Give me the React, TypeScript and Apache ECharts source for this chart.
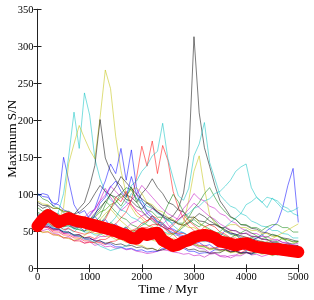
import React, { useEffect, useRef } from "react";
import * as echarts from "echarts";

const times = [0,100,200,300,400,500,600,700,800,900,1000,1100,1200,1300,1400,1500,1600,1700,1800,1900,2000,2100,2200,2300,2400,2500,2600,2700,2800,2900,3000,3100,3200,3300,3400,3500,3600,3700,3800,3900,4000,4100,4200,4300,4400,4500,4600,4700,4800,4900,5000];

const colors = ["#0000ff", "#008000", "#ff0000", "#00bfbf", "#bf00bf", "#bfbf00", "#000000"];

const b1 = [98,101,99,84,90,150,118,86,74,78,66,70,62,66,57,60,52,55,47,50,44,46,39,42,36,38,33,35,31,36,33,35,30,32,27,30,28,31,26,28,24,27,23,25,22,24,21,23,20,22,20];
const g1 = [82,77,80,71,74,66,70,63,69,60,64,58,66,55,62,57,52,56,48,53,58,62,71,64,59,51,46,50,56,61,66,60,57,53,49,47,44,41,45,39,38,42,40,46,39,37,36,41,34,33,36];
const r1 = [60,57,55,51,53,47,49,44,46,41,43,40,47,49,55,60,68,76,92,123,165,138,172,128,166,146,104,82,67,57,51,47,43,41,38,37,35,34,32,31,30,29,28,27,26,25,26,24,23,23,22];
const c1 = [70,66,68,58,76,101,152,211,162,237,207,148,121,103,92,87,79,76,69,66,61,59,54,52,50,47,46,44,42,46,48,51,46,44,41,40,38,37,35,34,33,31,30,31,30,29,28,28,27,26,25];
const m1 = [56,51,53,47,46,41,43,37,39,34,36,31,33,29,30,27,28,25,26,23,22,20,21,23,25,24,22,21,19,20,17,18,15,19,20,16,15,17,18,21,22,18,19,16,18,21,22,20,21,18,20];
const y1 = [66,61,63,57,64,82,142,168,193,176,160,148,204,268,243,178,132,101,82,71,67,58,57,49,50,45,47,51,62,92,131,152,108,72,61,56,49,50,44,43,39,40,35,37,33,34,30,32,29,29,27];
const k1 = [86,81,84,75,72,69,70,73,76,82,89,101,112,104,99,96,101,93,91,84,80,89,84,76,70,66,71,81,102,152,313,210,163,138,112,91,81,70,66,59,58,54,53,49,48,45,44,41,40,38,36];
const b2 = [101,97,96,88,86,79,76,69,70,64,72,81,101,118,141,128,162,119,160,108,92,78,71,63,61,54,53,49,48,44,43,39,38,35,41,44,51,47,46,41,40,37,41,44,51,56,62,82,112,135,62];
const g2 = [76,72,71,66,66,59,63,57,56,61,64,71,79,91,84,76,69,66,59,56,49,48,45,45,41,40,37,37,34,35,32,30,29,26,27,24,25,22,23,21,22,19,21,22,20,19,18,20,17,17,18];
const r2 = [58,55,55,49,49,45,45,41,41,37,37,34,35,32,36,37,41,44,51,54,61,64,71,67,61,54,51,47,47,44,45,49,56,59,56,49,46,41,41,37,37,34,35,32,33,29,30,27,28,25,25];
const c2 = [66,61,61,57,57,53,53,49,56,59,66,69,76,79,86,89,96,99,112,118,131,139,152,158,196,148,122,98,92,108,152,168,197,143,121,99,91,84,81,74,71,64,61,57,56,51,51,47,46,41,41];
const m2 = [61,57,57,53,53,49,56,59,66,69,76,79,91,99,111,104,96,89,86,79,76,69,66,59,59,54,61,69,81,89,101,94,91,84,81,74,71,64,61,54,51,47,47,43,43,39,39,35,35,31,31];
const y2 = [71,67,67,63,63,59,59,55,55,51,51,47,47,43,43,39,39,35,35,31,31,27,27,24,31,34,41,37,37,33,33,29,29,25,26,23,24,21,22,19,22,21,22,19,20,17,20,19,20,17,18];
const k2 = [89,85,85,81,81,77,77,73,81,89,111,139,201,149,131,119,111,99,96,89,101,109,121,109,101,89,86,79,76,69,69,64,63,59,59,55,55,51,51,47,47,43,43,39,39,35,35,32,33,30,31];
const b3 = [63,59,59,54,53,49,49,45,45,41,41,37,37,33,33,29,29,26,27,24,25,22,23,23,27,27,31,27,27,23,23,20,21,21,25,25,26,23,24,21,22,19,23,23,24,21,22,19,20,19,22];
const g3 = [101,94,91,84,81,75,73,69,69,65,65,61,61,69,81,89,101,109,106,94,86,79,76,69,69,65,65,61,61,69,81,89,101,109,96,84,76,69,66,59,59,55,55,51,56,59,59,55,55,49,49];
const r3 = [53,49,49,45,45,41,41,37,37,34,35,35,39,39,43,43,47,47,51,51,55,55,59,59,56,49,46,39,39,35,35,31,31,27,28,25,26,23,24,21,25,25,26,23,24,21,22,19,22,21,24];
const c3 = [69,65,65,61,61,57,57,53,53,49,49,45,45,49,61,69,81,89,101,94,91,84,81,74,71,64,61,64,71,74,81,84,91,94,101,104,111,119,131,137,141,109,96,89,96,94,91,84,81,74,71];
const m3 = [59,55,56,52,51,47,47,43,43,39,39,39,43,43,47,47,51,54,61,64,71,74,81,77,71,59,51,44,41,34,31,27,26,21,21,17,17,14,17,17,21,21,26,27,31,31,31,27,27,24,25];
const y3 = [91,87,86,81,81,77,76,71,71,67,67,69,76,79,86,89,96,99,106,109,101,89,86,79,76,69,66,59,59,55,55,51,51,47,47,49,56,59,59,55,55,51,51,47,47,43,43,39,39,35,36];
const k3 = [61,57,57,53,53,49,49,45,45,41,41,37,37,34,35,32,33,30,31,28,29,26,27,24,25,27,33,29,29,25,26,23,23,20,21,21,25,22,23,20,21,20,23,20,21,18,19,18,21,18,19];
const b4 = [72,68,70,64,62,58,60,54,56,50,60,72,88,96,110,118,104,96,124,100,86,74,68,62,56,52,48,46,44,42,46,50,44,40,36,34,32,30,28,30,32,28,26,24,26,28,25,23,22,24,23];
const g4 = [66,63,64,60,58,56,58,54,52,50,55,62,70,86,100,92,84,96,110,90,78,70,64,58,70,86,100,90,76,66,60,56,62,70,64,56,50,46,44,48,52,48,44,40,42,46,44,40,38,36,37];
const r4 = [64,60,62,56,58,52,54,50,48,46,48,50,58,66,80,96,90,104,86,76,70,64,68,60,56,52,58,66,72,64,58,52,48,46,42,44,40,38,36,34,37,35,33,31,30,32,30,28,27,29,28];
const c4 = [62,58,60,55,54,50,48,45,43,40,38,35,30,27,24,26,28,30,34,38,40,44,48,52,60,66,58,52,48,44,40,38,36,40,44,50,56,62,68,74,86,90,96,90,82,95,88,80,76,78,82];
const m4 = [70,66,68,62,64,58,60,56,58,62,70,80,92,108,96,86,78,84,92,100,112,104,96,88,80,74,70,66,72,80,88,82,76,70,66,60,56,52,50,46,48,44,42,40,38,36,38,35,33,32,34];
const y4 = [52,48,50,46,44,42,40,38,40,44,50,58,66,74,80,72,64,58,52,48,44,40,38,36,34,40,46,52,58,64,70,62,56,50,46,42,40,38,36,34,32,30,28,32,36,40,44,48,52,56,60];
const k4 = [74,70,72,66,64,60,62,58,56,60,66,74,82,90,100,110,124,116,108,100,94,88,82,76,72,68,64,60,58,62,68,74,70,64,60,56,52,48,46,44,42,40,38,36,35,34,33,32,31,30,29];

const meanSN = [57,66,72,68,62,65,68,65,63,62,60,58,56,54,52,50,47,45,41,40,47,45,47,48,38,34,30,32,36,38,42,44,45,44,41,36,35,33,31,33,34,31,29,28,27,26,26,25,24,23,22];

const runs = [b1,g1,r1,c1,m1,y1,k1,b2,g2,r2,c2,m2,y2,k2,b3,g3,r3,c3,m3,y3,k3,b4,g4,r4,c4,m4,y4,k4];

const xTicks = [0,1000,2000,3000,4000,5000];
const yTicks = [0,50,100,150,200,250,300,350];

const FONT = "'Liberation Serif', 'DejaVu Serif', serif";

export default function App() {
  const ref = useRef<HTMLDivElement>(null);
  useEffect(() => {
    if (!ref.current) return;
    const chart = echarts.init(ref.current, null, { renderer: "svg" });
    const pair = (vals: number[]) => times.map((t, i) => [t, vals[i]]);
    const thin = runs.map((vals, i) => ({
      type: "line",
      data: pair(vals),
      showSymbol: false,
      symbol: "none",
      silent: true,
      lineStyle: { color: colors[i % colors.length], width: 0.8, opacity: 0.65 },
      z: 2,
    }));
    const axisLine = { show: true, lineStyle: { color: "#222", width: 1 } };
    const tickIn = { show: true, inside: true, length: 4, lineStyle: { color: "#222", width: 1 } };
    chart.setOption({
      animation: false,
      grid: { left: 37.5, right: 15.7, top: 9.3, bottom: 31.7, outerBoundsMode: "none", containLabel: false },
      xAxis: [
        {
          type: "value", min: xTicks[0], max: xTicks[xTicks.length - 1], interval: 1000,
          position: "bottom",
          axisLine, axisTick: tickIn, splitLine: { show: false },
          axisLabel: { color: "#000", fontFamily: FONT, fontSize: 10.5, lineHeight: 11, margin: 3, formatter: (v: number) => String(v) },
          name: "Time / Myr", nameLocation: "middle", nameGap: 14, nameMoveOverlap: false,
          nameTextStyle: { color: "#000", fontFamily: FONT, fontSize: 13, lineHeight: 13, verticalAlign: "top" },
        },
        {
          type: "value", min: xTicks[0], max: xTicks[xTicks.length - 1], interval: 1000,
          position: "top",
          axisLine, axisTick: tickIn, splitLine: { show: false }, axisLabel: { show: false },
        },
      ],
      yAxis: [
        {
          type: "value", min: yTicks[0], max: yTicks[yTicks.length - 1], interval: 50,
          position: "left",
          axisLine, axisTick: tickIn, splitLine: { show: false },
          axisLabel: { color: "#000", fontFamily: FONT, fontSize: 10.5, margin: 4, formatter: (v: number) => String(v) },
          name: "Maximum S/N", nameLocation: "middle", nameGap: 20, nameMoveOverlap: false,
          nameTextStyle: { color: "#000", fontFamily: FONT, fontSize: 13, lineHeight: 13 },
        },
        {
          type: "value", min: yTicks[0], max: yTicks[yTicks.length - 1], interval: 50,
          position: "right",
          axisLine, axisTick: tickIn, splitLine: { show: false }, axisLabel: { show: false },
        },
      ],
      series: [
        ...thin,
        {
          type: "line",
          data: pair(meanSN),
          showSymbol: false,
          symbol: "none",
          silent: true,
          lineStyle: { color: "#ff0000", width: 12, cap: "round", join: "round" },
          z: 5,
        },
      ],
    });
    return () => chart.dispose();
  }, []);
  return <div ref={ref} style={{ position: "fixed", left: 0, top: 0, width: 314, height: 300 }} />;
}
